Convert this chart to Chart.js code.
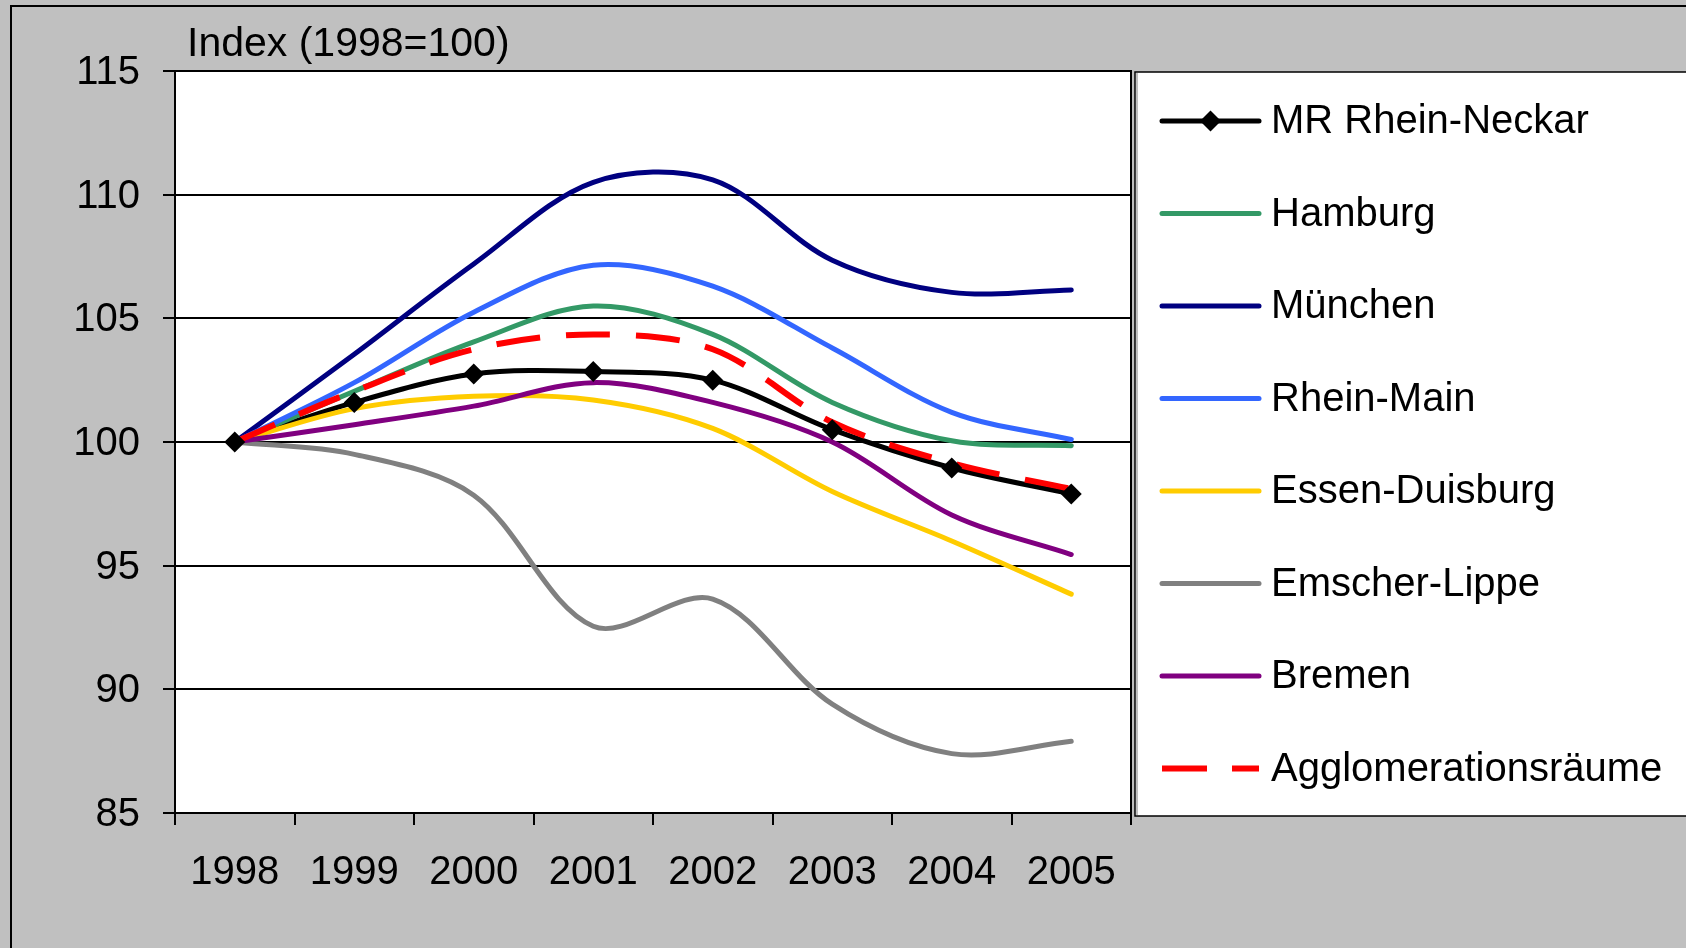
<!DOCTYPE html>
<html><head><meta charset="utf-8">
<script src="https://cdn.jsdelivr.net/npm/chart.js@4.4.1/dist/chart.umd.min.js"></script>
<style>html,body{margin:0;padding:0;background:#C0C0C0;overflow:hidden}canvas{display:block}</style>
</head><body><canvas id="c" width="1686" height="948"></canvas>
<script>
// ---- data ----
const years = ['1998','1999','2000','2001','2002','2003','2004','2005'];
const yTicks = [85, 90, 95, 100, 105, 110, 115];
const yTitle = 'Index (1998=100)';
const seriesNames = ['MR Rhein-Neckar','Hamburg','München','Rhein-Main','Essen-Duisburg','Emscher-Lippe','Bremen','Agglomerationsräume'];
const mrRheinNeckar = [100, 101.6, 102.75, 102.85, 102.5, 100.5, 98.95, 97.9];
const hamburg       = [100, 102.05, 104.05, 105.5, 104.35, 101.6, 100.05, 99.85];
const muenchen      = [100, 103.55, 107.2, 110.5, 110.6, 107.35, 106.05, 106.15];
const rheinMain     = [100, 102.4, 105.25, 107.15, 106.3, 103.8, 101.2, 100.1];
const essenDuisburg = [100, 101.35, 101.85, 101.7, 100.55, 98.0, 96.0, 93.85];
const emscherLippe  = [100, 99.5, 97.85, 92.55, 93.65, 89.4, 87.4, 87.9];
const bremen        = [100, 100.7, 101.45, 102.4, 101.6, 100.0, 97.05, 95.45];
const agglomeration = [100, 102.05, 103.75, 104.35, 103.75, 100.8, 99.15, 98.1];

const FONT = '"Liberation Sans", Arial, sans-serif';
const TENSION = 0.33;

function lineDs(label, data, color, order, extra) {
  return Object.assign({
    label, data, borderColor: color, backgroundColor: color, borderWidth: 5,
    pointRadius: 0, pointHoverRadius: 0, tension: TENSION, fill: false,
    borderCapStyle: 'round', borderJoinStyle: 'round', order
  }, extra || {});
}

const datasets = [
  lineDs(seriesNames[0], mrRheinNeckar, '#000000', 8, {legendMarker: 'diamond'}),
  lineDs(seriesNames[1], hamburg, '#339966', 7),
  lineDs(seriesNames[2], muenchen, '#000080', 6),
  lineDs(seriesNames[3], rheinMain, '#3366FF', 5),
  lineDs(seriesNames[4], essenDuisburg, '#FFCC00', 4),
  lineDs(seriesNames[5], emscherLippe, '#808080', 3),
  lineDs(seriesNames[6], bremen, '#800080', 2),
  lineDs(seriesNames[7], agglomeration, '#FF0000', 1, {borderWidth: 6, borderDash: [44, 26], borderCapStyle: 'butt', legendDash: [45, 25]}),
  { label: seriesNames[0] + ' markers', data: mrRheinNeckar, showLine: false, pointStyle: 'rectRot',
    pointRadius: 10.5, pointHoverRadius: 10.5, pointBorderWidth: 0, backgroundColor: '#000', borderColor: '#000',
    order: 0, inLegend: false }
];

const framePlugin = {
  id: 'frame',
  beforeDraw(chart) {
    const {ctx, chartArea: a, width, height} = chart;
    ctx.save();
    ctx.fillStyle = '#C0C0C0';
    ctx.fillRect(0, 0, width, height);
    ctx.strokeStyle = '#000'; ctx.lineWidth = 2;
    ctx.strokeRect(11, 6, width + 20, height + 20);
    ctx.fillStyle = '#FFFFFF';
    ctx.fillRect(a.left, a.top, a.right - a.left, a.bottom - a.top);
    ctx.restore();
  },
  beforeDatasetsDraw(chart) {
    const {ctx, chartArea: a} = chart;
    ctx.save();
    ctx.strokeStyle = '#000'; ctx.lineWidth = 2;
    ctx.strokeRect(a.left, a.top, a.right - a.left, a.bottom - a.top);
    ctx.restore();
  },
  afterDraw(chart) {
    const {ctx, chartArea: a, width} = chart;
    const ys = chart.scales.y;
    ctx.save();
    ctx.fillStyle = '#000';
    // y tick labels (through the y scale)
    ctx.font = '40px ' + FONT;
    ctx.textAlign = 'right'; ctx.textBaseline = 'middle';
    yTicks.forEach(v => ctx.fillText(String(v), a.left - 35, ys.getPixelForValue(v) + 2));
    // axis title
    ctx.font = '41px ' + FONT;
    ctx.textAlign = 'left'; ctx.textBaseline = 'middle';
    ctx.fillText(yTitle, a.left + 12, a.top - 26);
    // legend box
    const bx = a.right + 4, by = a.top + 1, bb = a.bottom + 3;
    ctx.fillStyle = '#FFFFFF';
    ctx.fillRect(bx, by, width + 10 - bx, bb - by);
    ctx.strokeStyle = '#000'; ctx.lineWidth = 1.5;
    ctx.strokeRect(bx, by, width + 10 - bx, bb - by);
    ctx.strokeStyle = '#808080'; ctx.lineWidth = 1;
    ctx.beginPath(); ctx.moveTo(bx + 2, by + 1); ctx.lineTo(bx + 2, bb - 1); ctx.stroke();
    const items = chart.data.datasets.filter(d => d.inLegend !== false);
    const step = 92.5;
    items.forEach((d, i) => {
      const cy = a.top + 50 + i * step;
      const x0 = bx + 27, x1 = bx + 124;
      ctx.strokeStyle = d.borderColor;
      ctx.lineWidth = d.borderWidth;
      ctx.lineCap = d.legendDash ? 'butt' : 'round';
      ctx.setLineDash(d.legendDash || []);
      ctx.beginPath(); ctx.moveTo(x0, cy); ctx.lineTo(x1, cy); ctx.stroke();
      ctx.setLineDash([]);
      if (d.legendMarker === 'diamond') {
        const cx = (x0 + x1) / 2, r = 10.5;
        ctx.fillStyle = d.borderColor;
        ctx.beginPath();
        ctx.moveTo(cx - r, cy); ctx.lineTo(cx, cy - r); ctx.lineTo(cx + r, cy); ctx.lineTo(cx, cy + r);
        ctx.closePath(); ctx.fill();
      }
      ctx.fillStyle = '#000';
      ctx.font = '40px ' + FONT;
      ctx.textAlign = 'left'; ctx.textBaseline = 'middle';
      ctx.fillText(d.label, bx + 136, cy + 1);
    });
    ctx.restore();
  }
};

new Chart(document.getElementById('c'), {
  type: 'line',
  data: { labels: years, datasets },
  options: {
    responsive: false, animation: false, devicePixelRatio: 1,
    layout: { padding: { left: 0, top: 71, right: 555, bottom: 0 } },
    plugins: { legend: { display: false }, tooltip: { enabled: false }, title: { display: false } },
    scales: {
      x: {
        type: 'category', offset: true,
        grid: { offset: true, drawOnChartArea: false, drawTicks: true, tickLength: 12, color: '#000', lineWidth: 2 },
        border: { display: true, color: '#000', width: 2 },
        ticks: { font: { family: FONT, size: 40 }, color: '#000', padding: 24, maxRotation: 0, autoSkip: false },
        afterFit(s) { s.height = 135; }
      },
      y: {
        min: 85, max: 115,
        afterBuildTicks(s) { s.ticks = yTicks.map(v => ({ value: v })); },
        grid: { color: '#000', lineWidth: 2, drawTicks: true, tickLength: 12 },
        border: { display: true, color: '#000', width: 2 },
        ticks: { display: false },
        afterFit(s) { s.width = 175; }
      }
    }
  },
  plugins: [framePlugin]
});
</script>
</body></html>
